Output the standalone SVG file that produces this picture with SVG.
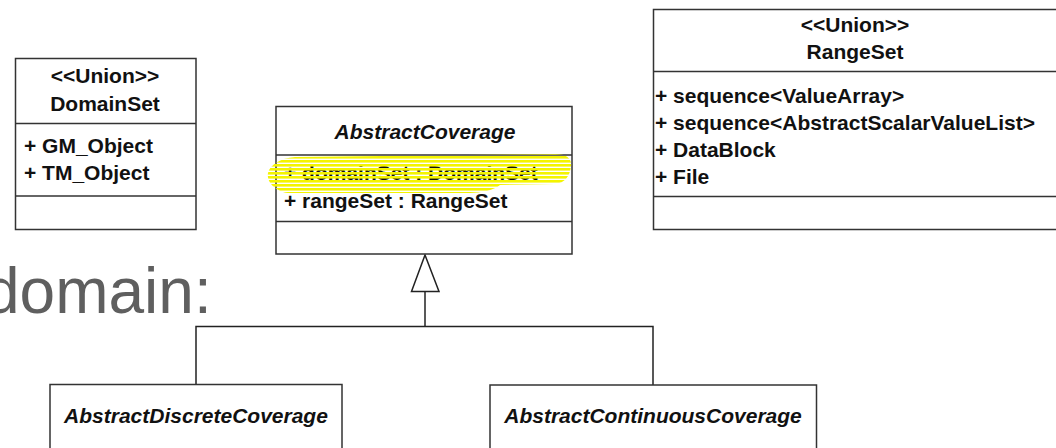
<svg xmlns="http://www.w3.org/2000/svg" width="1056" height="448" viewBox="0 0 1056 448">
<style>
.box{fill:#fff;stroke:#333;stroke-width:1.5}
.div{stroke:#333;stroke-width:1.5}
.t{font-family:"Liberation Sans",Arial,sans-serif;font-size:21px;font-weight:bold;fill:#111}
.c{text-anchor:middle}
.i{font-style:italic}
.conn{fill:none;stroke:#222;stroke-width:1.5}
.big{font-family:"Liberation Sans",Arial,sans-serif;font-size:64px;fill:#5f5f5f}
</style>
<defs>
<pattern id="hl" patternUnits="userSpaceOnUse" width="8" height="4">
<rect x="0" y="0" width="8" height="2.6" fill="#f4f400"/>
</pattern>
</defs>
<rect width="1056" height="448" fill="#fff"/>
<text class="big" x="-16" y="313">domain:</text>
<g id="connectors">
<polygon class="conn" points="425,255 411.5,291.5 439,291.5" fill="#fff"/>
<polyline class="conn" points="425,291.5 425,326.5"/>
<polyline class="conn" points="196,384 196,326.5 653,326.5 653,385"/>
</g>
<g id="DomainSet">
<rect class="box" x="15.5" y="58.5" width="180.5" height="171"/>
<line class="div" x1="15.5" y1="123.5" x2="196" y2="123.5"/>
<line class="div" x1="15.5" y1="196" x2="196" y2="196"/>
<text class="t c" x="105" y="83">&lt;&lt;Union&gt;&gt;</text>
<text class="t c" x="105" y="111">DomainSet</text>
<text class="t" x="24" y="153">+ GM_Object</text>
<text class="t" x="24" y="180">+ TM_Object</text>
</g>
<g id="AbstractCoverage">
<rect class="box" x="276" y="106.5" width="296" height="147.5"/>
<line class="div" x1="276" y1="155" x2="572" y2="155"/>
<line class="div" x1="276" y1="221.5" x2="572" y2="221.5"/>
<text class="t c i" x="425" y="139">AbstractCoverage</text>
<text class="t" x="284" y="180">+ domainSet : DomainSet</text>
<path d="M268,173 C270,165 280,158 295,157 L555,154 C568,154 572,160 571,166 C570,176 565,183 555,184 L500,185 C495,190 480,193 470,193 L290,193 C278,193 266,183 268,173 Z" fill="url(#hl)"/>
<text class="t" x="284" y="208">+ rangeSet : RangeSet</text>
</g>
<g id="RangeSet">
<rect class="box" x="653.5" y="9.5" width="420" height="220"/>
<line class="div" x1="653.5" y1="71.5" x2="1060" y2="71.5"/>
<line class="div" x1="653.5" y1="196.5" x2="1060" y2="196.5"/>
<text class="t c" x="855" y="32">&lt;&lt;Union&gt;&gt;</text>
<text class="t c" x="855" y="59">RangeSet</text>
<text class="t" x="655" y="103">+ sequence&lt;ValueArray&gt;</text>
<text class="t" x="655" y="130">+ sequence&lt;AbstractScalarValueList&gt;</text>
<text class="t" x="655" y="157">+ DataBlock</text>
<text class="t" x="655" y="184">+ File</text>
</g>
<g id="AbstractDiscreteCoverage">
<rect class="box" x="50" y="384.5" width="292" height="80"/>
<text class="t c i" x="196" y="423">AbstractDiscreteCoverage</text>
</g>
<g id="AbstractContinuousCoverage">
<rect class="box" x="490" y="385" width="326.5" height="80"/>
<text class="t c i" x="653" y="423">AbstractContinuousCoverage</text>
</g>
</svg>
